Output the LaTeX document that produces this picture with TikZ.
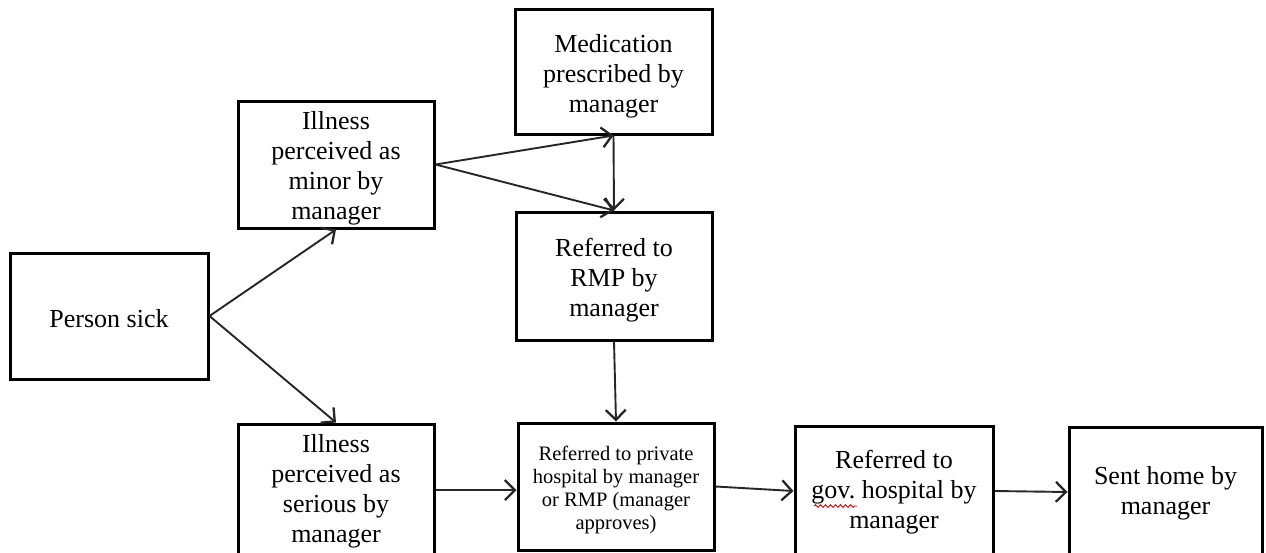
\documentclass[tikz,border=0pt]{standalone}
\usepackage{fontspec}
\setmainfont{Liberation Serif}
\usetikzlibrary{arrows.meta,calc,decorations.pathmorphing}
\begin{document}
\begin{tikzpicture}[x=1pt,y=-1pt,
  box/.style={draw=black,line width=3pt,rectangle,inner sep=0pt},
  txt/.style={align=center,inner sep=0pt,font=\fontsize{26}{30}\selectfont},
  smalltxt/.style={txt,font=\fontsize{20.5}{22.7}\selectfont},
  arr/.style={draw=black!85,line width=1.9pt,
    -{Straight Barb[length=10pt,width=20pt,line width=2.3pt]}},
  squiggle/.style={draw=red!85!black,line width=0.9pt,
    decorate,decoration={snake,segment length=5pt,amplitude=1.3pt}}]
\useasboundingbox (0,0) rectangle (1266,552);

\node[box,minimum width=198pt,minimum height=126pt,
  label={[txt,yshift=-3pt]center:Person sick}] (person) at (109,316) {};
\node[box,minimum width=196pt,minimum height=127pt,
  label={[txt,yshift=-4pt]center:{Illness\\perceived as\\minor by\\manager}}]
  (minor) at (336,164.5) {};
\node[box,minimum width=196pt,minimum height=132pt,
  label={[txt,yshift=-1pt]center:{Illness\\perceived as\\serious by\\manager}}]
  (serious) at (336,490) {};
\node[box,minimum width=197pt,minimum height=125pt,
  label={[txt,yshift=-4.5pt]center:{Medication\\prescribed by\\manager}}]
  (med) at (613.5,71.5) {};
\node[box,minimum width=196pt,minimum height=128pt,
  label={[txt,yshift=-4.5pt]center:{Referred to\\RMP by\\manager}}]
  (rmp) at (614,276) {};
\node[box,minimum width=196pt,minimum height=127pt,
  label={[smalltxt,yshift=-3.5pt]center:{Referred to private\\hospital by manager\\or RMP (manager\\approves)}}]
  (private) at (616,486.5) {};
\node[box,minimum width=198pt,minimum height=130pt,
  label={[txt,yshift=-1pt]center:{Referred to\\gov.\ hospital by\\manager}}]
  (gov) at (894,491) {};
\node[box,minimum width=193pt,minimum height=130pt,
  label={[txt,yshift=-1pt]center:{Sent home by\\manager}}]
  (sent) at (1165.5,492) {};

% spell-check underline beneath "gov."
\coordinate (sqa) at ($(gov.center)+(-80,15)$);
\coordinate (sqb) at ($(gov.center)+(-37,15)$);
\draw[squiggle] (sqa) -- (sqb);

\draw[arr] (person.east) -- (minor.south);
\draw[arr] (person.east) -- (serious.north);
\draw[arr] (minor.east) -- (med.south);
\draw[arr] (minor.east) -- (rmp.north);
\draw[arr] (med.south) -- (rmp.north);
\draw[arr] (rmp.south) -- (private.north);
\draw[arr] (serious.east) -- (serious.east -| private.west);
\draw[arr] (private.east) -- (gov.west);
\draw[arr] (gov.east) -- (sent.west);
\end{tikzpicture}
\end{document}
